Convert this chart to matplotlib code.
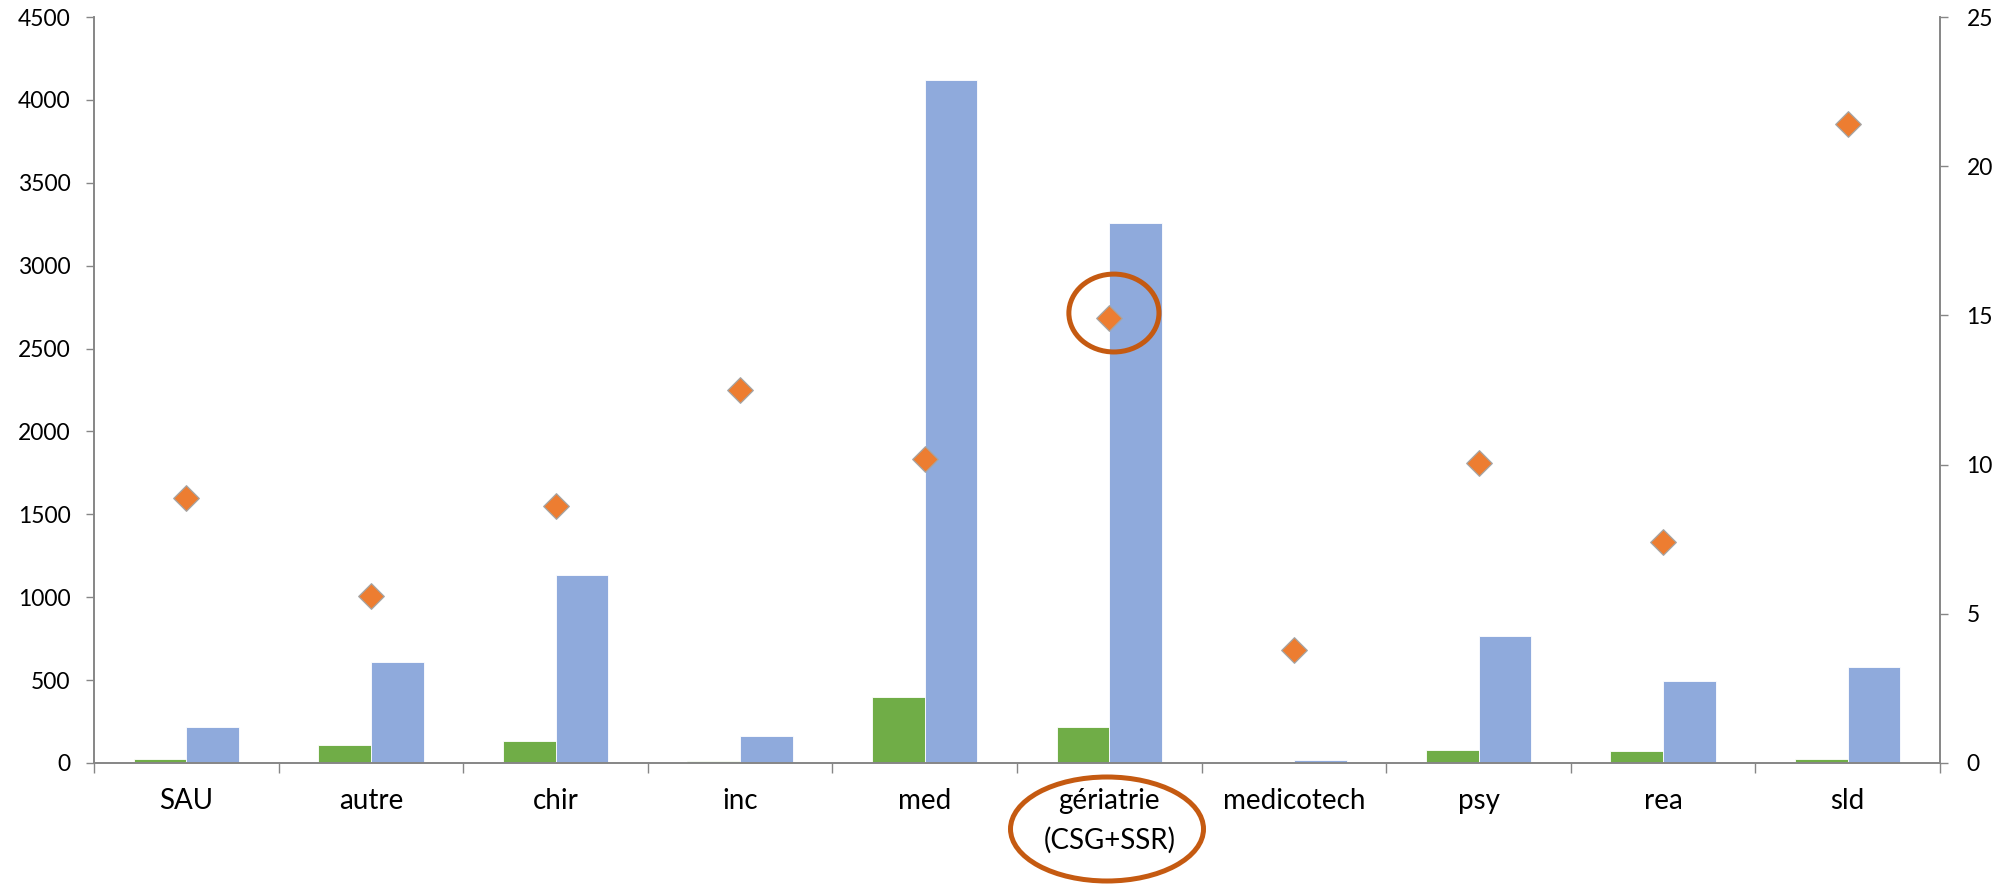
import matplotlib
matplotlib.use("Agg")
from matplotlib import pyplot as plt
from matplotlib.patches import Ellipse
import numpy as np

# data
categories = ["SAU", "autre", "chir", "inc", "med", "gériatrie\n(CSG+SSR)",
              "medicotech", "psy", "rea", "sld"]
green_vals = [25, 108, 131, 10, 400, 216, 4, 77, 70, 25]
blue_vals = [218, 609, 1135, 162, 4120, 3260, 20, 763, 493, 578]
ratio_vals = [8.88, 5.6, 8.6, 12.5, 10.2, 14.9, 3.79, 10.05, 7.4, 21.4]

green = "#70AD47"
blue = "#8FAADC"
orange = "#ED7D31"
circle_col = "#C55A11"
axis_col = "#868686"

plt.rcParams['font.family'] = ['Lato', 'DejaVu Sans']

fig = plt.figure(figsize=(20, 8.88), dpi=100)
ax = fig.add_axes([0.047, 0.1408, 0.923, 0.840])
ax2 = ax.twinx()

x = np.arange(len(categories))
w = 0.285
ax.bar(x - w / 2, green_vals, width=w, color=green, edgecolor="white", linewidth=0.6, zorder=2)
ax.bar(x + w / 2, blue_vals, width=w, color=blue, edgecolor="white", linewidth=0.6, zorder=2)

ax2.scatter(x, ratio_vals, marker="D", s=170, color=orange, edgecolors="#A5A5A5",
            linewidths=0.9, zorder=5)

ax.set_xlim(-0.5, len(categories) - 0.5)
ax.set_ylim(0, 4500)
ax.set_yticks(range(0, 4501, 500))
ax2.set_ylim(0, 25)
ax2.set_yticks(range(0, 26, 5))

# category labels centred, ticks between categories
ax.set_xticks(x)
ax.set_xticklabels(categories, fontsize=20, linespacing=1.6)
ax.set_xticks(np.arange(-0.5, len(categories), 1), minor=True)
ax.tick_params(axis="x", which="major", length=0, pad=18)
ax.tick_params(axis="x", which="minor", length=7, color=axis_col, width=1)
ax.tick_params(axis="y", length=6, color=axis_col, width=1, labelsize=16.5, pad=11)
ax2.tick_params(axis="y", length=6, color=axis_col, width=1, labelsize=16.5, pad=13)

for a in (ax, ax2):
    a.spines["top"].set_visible(False)
    for s in ("left", "right", "bottom"):
        a.spines[s].set_color(axis_col)
        a.spines[s].set_linewidth(1.2)

# highlight circles
ax2.add_patch(Ellipse((5.025, 15.08), 0.488, 2.61, fill=False, edgecolor=circle_col,
                      linewidth=3.6, zorder=6))
fig.patches.append(Ellipse((1107 / 2000, 1 - 829 / 888), 193 / 2000, 104 / 888,
                           transform=fig.transFigure, fill=False,
                           edgecolor=circle_col, linewidth=3.6))

plt.savefig("out.png", dpi=100)
